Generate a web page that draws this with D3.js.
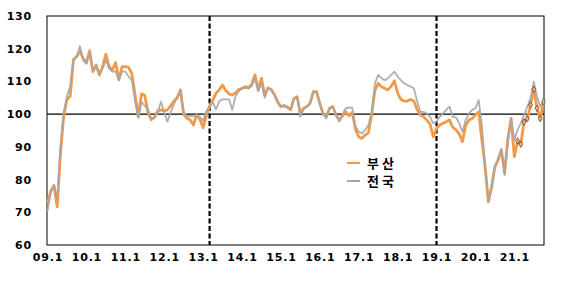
<!DOCTYPE html>
<html>
<head>
<meta charset="utf-8">
<script src="https://cdn.jsdelivr.net/npm/d3@7"></script>
<style>
  body { margin: 0; background: #fff; }
</style>
</head>
<body>
<div id="chart"></div>
<script>
// Busan vs national index, monthly from 09.1
var busan = [
  72.7, 76.5, 78.2, 71.7, 88.0, 99.5, 104.5, 105.5, 116.5, 117.6, 119.3, 117.0,
  115.6, 119.4, 113.0, 115.0, 112.0, 114.5, 118.3, 114.5, 113.5, 115.8, 110.5, 114.5,
  114.5, 114.3, 112.5, 106.0, 99.3, 106.2, 105.8, 100.5, 98.3, 99.0, 101.0, 101.3,
  101.0, 101.3, 102.5, 104.0, 105.0, 107.4, 100.0, 98.7, 98.3, 96.7, 99.7, 98.5,
  95.8, 99.5, 102.5, 104.3, 106.4, 107.5, 108.9, 107.2, 106.2, 105.8, 106.5, 107.5,
  107.9, 108.4, 108.0, 109.2, 112.0, 107.4, 111.0, 105.8, 108.0, 107.5, 106.0, 103.8,
  102.3, 102.5, 102.2, 101.3, 104.8, 105.3, 100.2, 101.8, 102.3, 103.3, 106.9, 106.9,
  103.3, 100.2, 99.2, 101.8, 102.3, 99.7, 98.2, 99.5, 100.7, 99.5, 100.5, 95.5,
  93.0, 92.6, 93.6, 94.3, 100.0, 107.2, 109.4, 108.4, 107.9, 107.4, 108.5, 110.2,
  106.5, 104.5, 104.0, 104.0, 104.5, 104.0, 101.5, 99.7, 99.2, 98.2, 97.0, 93.1,
  95.7, 96.7, 97.2, 97.7, 98.2, 96.0, 95.2, 94.0, 91.6, 96.5, 98.2, 98.7,
  99.7, 100.7, 92.0, 83.9, 73.2, 77.8, 83.9, 86.0, 89.0, 82.0, 92.6, 98.7,
  87.0, 91.8, 90.8, 97.6, 98.6, 102.8, 107.6, 101.8, 98.6, 103.8
];
var national = [
  70.3, 76.0, 78.3, 74.0, 90.0, 100.5, 105.5, 108.5, 117.0, 117.5, 120.8, 116.5,
  115.5, 118.5, 113.5, 114.8, 112.5, 114.0, 116.5, 114.0, 113.0, 113.0, 110.5, 113.0,
  113.0, 111.5, 110.5, 104.0, 98.8, 103.8, 102.5, 101.5, 98.5, 99.0, 100.5, 103.8,
  100.5, 97.7, 100.5, 103.0, 105.0, 107.0, 100.5, 99.5, 99.5, 99.3, 99.5, 99.2,
  98.0, 101.0, 102.3, 103.5, 101.5, 104.0, 104.5, 104.5, 104.5, 101.3, 105.5, 107.0,
  107.9, 108.0, 107.9, 108.5, 111.0, 107.0, 109.5, 105.0, 108.0, 107.5, 105.8, 103.5,
  102.3, 102.8, 102.0, 101.3, 104.5, 105.3, 99.2, 101.5, 102.3, 103.3, 106.9, 106.5,
  103.0, 100.0, 98.7, 101.8, 102.3, 99.7, 97.7, 100.0, 101.8, 102.0, 102.0, 96.2,
  94.6, 94.1, 95.1, 96.7, 100.7, 109.4, 112.0, 111.0, 110.4, 111.0, 112.0, 113.0,
  111.5, 110.4, 109.4, 108.9, 108.4, 107.9, 104.0, 100.7, 100.7, 100.2, 99.2, 97.2,
  97.7, 99.2, 100.2, 101.3, 102.3, 99.2, 99.0, 97.2, 94.6, 98.2, 100.2, 101.3,
  101.8, 104.3, 96.5, 84.0, 73.2, 77.5, 83.9, 86.3, 89.5, 81.4, 91.0, 98.7,
  92.1, 95.2, 97.2, 99.7, 102.3, 104.8, 109.9, 105.3, 102.3, 103.8
];

var months = [];
for (var yr = 9; yr <= 21; yr++) {
  for (var m = 1; m <= 12; m++) {
    months.push((yr < 10 ? "0" : "") + yr + "." + m);
  }
}
months = months.slice(0, busan.length);

var xTicks = ["09.1", "10.1", "11.1", "12.1", "13.1", "14.1", "15.1",
              "16.1", "17.1", "18.1", "19.1", "20.1", "21.1"];
var yTicks = [60, 70, 80, 90, 100, 110, 120, 130];
var dashedMonths = ["13.3", "19.1"];
var markerFrom = "21.2";
var seriesNames = ["부 산", "전 국"];

var margin = {top: 16, right: 23, bottom: 38, left: 47},
    width = 567 - margin.left - margin.right,
    height = 283 - margin.top - margin.bottom;

var orange = "#f2994a",
    grey = "#a6a6a6";

var svg = d3.select("#chart").append("svg")
    .attr("width", 567)
    .attr("height", 283)
    .append("g")
    .attr("transform", "translate(" + margin.left + "," + margin.top + ")");

var x = d3.scalePoint()
    .domain(months)
    .range([0.5, width - 0.5]);

var y = d3.scaleLinear()
    .domain([60, 130])
    .range([height, 0]);

// axes
var yAxis = d3.axisLeft(y).tickValues(yTicks).tickSize(0).tickPadding(15);
var xAxis = d3.axisBottom(x).tickValues(xTicks).tickSize(0).tickPadding(8);

svg.append("g")
    .attr("class", "y-axis")
    .call(yAxis)
    .call(function(g) { g.select(".domain").remove(); });

svg.append("g")
    .attr("class", "x-axis")
    .attr("transform", "translate(0," + height + ")")
    .call(xAxis)
    .call(function(g) { g.select(".domain").remove(); });

svg.selectAll(".y-axis text, .x-axis text")
    .attr("font-family", "'DejaVu Sans', sans-serif")
    .attr("font-size", 11)
    .attr("font-weight", "bold")
    .attr("fill", "#000")
    .style("letter-spacing", "0.8px");

// frame
svg.append("rect")
    .attr("x", 0)
    .attr("y", 0)
    .attr("width", width)
    .attr("height", height)
    .attr("fill", "none")
    .attr("stroke", "#000")
    .attr("stroke-width", 1);

// 100 reference line
svg.append("line")
    .attr("x1", 0)
    .attr("x2", width)
    .attr("y1", y(100))
    .attr("y2", y(100))
    .attr("stroke", "#000")
    .attr("stroke-width", 1.2);

// dashed period lines
svg.selectAll(".period")
    .data(dashedMonths)
    .enter().append("line")
    .attr("class", "period")
    .attr("x1", function(d) { return x(d); })
    .attr("x2", function(d) { return x(d); })
    .attr("y1", 0)
    .attr("y2", height)
    .attr("stroke", "#000")
    .attr("stroke-width", 2.2)
    .attr("stroke-dasharray", "5,2.5");

var line = function(values) {
  return d3.line()
    .x(function(d, i) { return x(months[i]); })
    .y(function(d) { return y(d); })(values);
};

svg.append("path")
    .attr("d", line(busan))
    .attr("fill", "none")
    .attr("stroke", orange)
    .attr("stroke-width", 2.8)
    .attr("stroke-linejoin", "round");

svg.append("path")
    .attr("d", line(national))
    .attr("fill", "none")
    .attr("stroke", grey)
    .attr("stroke-opacity", 0.9)
    .attr("stroke-width", 1.8)
    .attr("stroke-linejoin", "round");

// diamond markers on the latest months
var start = months.indexOf(markerFrom);
var recent = busan.map(function(v, i) { return {m: months[i], v: v}; }).slice(start);

svg.selectAll(".marker")
    .data(recent)
    .enter().append("path")
    .attr("class", "marker")
    .attr("d", d3.symbol().type(d3.symbolDiamond).size(12))
    .attr("transform", function(d) { return "translate(" + x(d.m) + "," + y(d.v) + ")"; })
    .attr("fill", "#f6b477")
    .attr("stroke", "#6b4426")
    .attr("stroke-width", 0.8);

// legend
var legend = svg.append("g")
    .attr("transform", "translate(300,147)");

legend.selectAll("line")
    .data(seriesNames)
    .enter().append("line")
    .attr("x1", 0)
    .attr("x2", 13)
    .attr("y1", function(d, i) { return i * 18; })
    .attr("y2", function(d, i) { return i * 18; })
    .attr("stroke", function(d, i) { return i === 0 ? orange : grey; })
    .attr("stroke-width", 2);

legend.selectAll("text")
    .data(seriesNames)
    .enter().append("text")
    .attr("x", 20)
    .attr("y", function(d, i) { return i * 18; })
    .attr("dy", "0.36em")
    .attr("font-family", "'Noto Sans CJK KR', sans-serif")
    .attr("font-size", 13)
    .attr("font-weight", "bold")
    .text(function(d) { return d; });
</script>
</body>
</html>
